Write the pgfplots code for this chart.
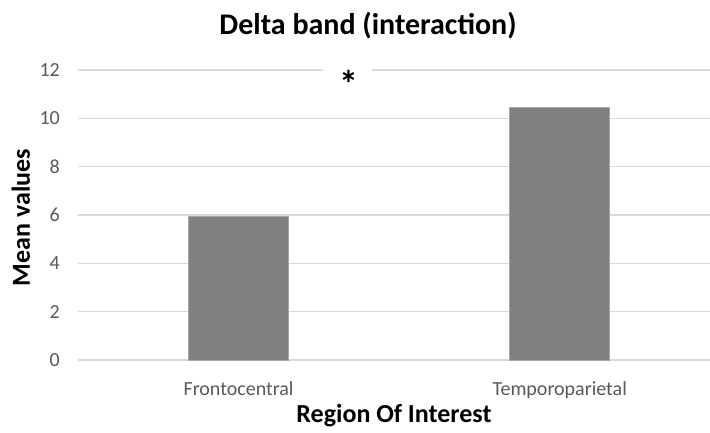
\documentclass[border=0pt]{standalone}
\usepackage{pgfplots}
\pgfplotsset{compat=1.18}
\usepackage{fontspec}
\setmainfont{Carlito}

\definecolor{barfill}{HTML}{808080}
\definecolor{baredge}{HTML}{A6A6A6}
\definecolor{gridc}{HTML}{D9D9D9}
\definecolor{ticktext}{HTML}{595959}

\begin{document}
\begin{tikzpicture}
  \useasboundingbox (-78pt,-72pt) rectangle (632pt,360pt);
  \begin{axis}[
      at={(0pt,0pt)}, anchor=south west,
      scale only axis,
      width=632pt, height=290pt,
      xmin=-0.5, xmax=1.468,
      ymin=0, ymax=12,
      ytick={0,2,...,12},
      xtick={0,1},
      xticklabels={Frontocentral, Temporoparietal},
      ymajorgrids,
      grid style={gridc, line width=1.3pt},
      axis line style={draw=none},
      major tick length=0pt,
      /pgf/number format/assume math mode=true,
      ticklabel style={font=\fontsize{20}{24}\selectfont, text=ticktext, inner sep=0pt},
      xticklabel style={anchor=base, yshift=-35pt},
      yticklabel style={anchor=east, xshift=-18pt},
      clip=false,
    ]
    \addplot[ybar, bar width=100pt, fill=barfill, draw=baredge, line width=0.6pt]
      coordinates {(0,5.93) (1,10.45)};
  \end{axis}

  % title and axis labels
  \node[anchor=base, font=\fontsize{30}{36}\selectfont\bfseries] at (290pt,325pt)
    {Delta band (interaction)};
  \node[anchor=base, rotate=90, font=\fontsize{26}{31}\selectfont\bfseries] at (-48pt,142.5pt)
    {Mean values};
  \node[anchor=base, font=\fontsize{26}{31}\selectfont\bfseries] at (316pt,-62pt)
    {Region Of Interest};

  % significance marker breaking the top gridline
  \fill[white] (245pt,286pt) rectangle (294pt,294pt);
  \node[anchor=base, font=\fontsize{38}{44}\selectfont\bfseries, inner sep=0pt] at (271pt,263pt) {*};
\end{tikzpicture}
\end{document}
